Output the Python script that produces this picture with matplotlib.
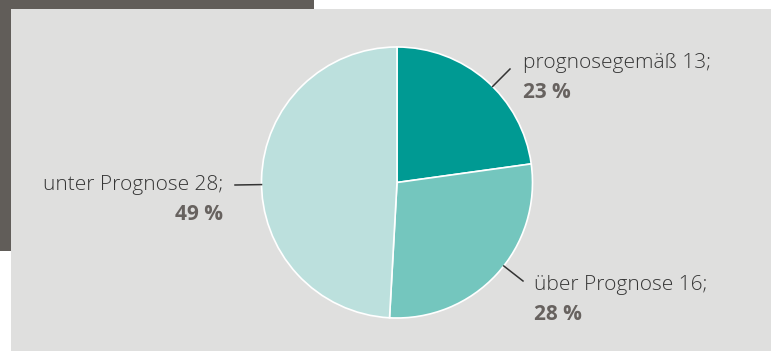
import numpy as np
import matplotlib
matplotlib.use("Agg")
import matplotlib.pyplot as plt
from matplotlib.patches import Rectangle

# Prognose-Treffer
categories = ["prognosegemäß", "über Prognose", "unter Prognose"]
counts = [13, 16, 28]
percent = [23, 28, 49]
colors = ["#009a93", "#74c6be", "#bce0dd"]

W, H = 771, 351
plt.rcParams["font.family"] = ["Open Sans", "DejaVu Sans"]

fig = plt.figure(figsize=(W / 100, H / 100), dpi=100)
fig.patch.set_facecolor("white")
ax = fig.add_axes([0, 0, 1, 1])

# Hintergrund: dunkler Block links oben, graue Fläche darüber
ax.add_patch(Rectangle((0, H - 251), 314, 251, facecolor="#615d59", edgecolor="none", zorder=0))
ax.add_patch(Rectangle((11, 0), W - 11, H - 9, facecolor="#dfdfde", edgecolor="none", zorder=1))

cx, cy, r = 397, H - 182.5, 135.5
wedges, _ = ax.pie(counts, colors=colors, startangle=90, counterclock=False,
                   center=(cx, cy), radius=r,
                   wedgeprops=dict(edgecolor="white", linewidth=1.2))
for w in wedges:
    w.set_zorder(2)

# Führungslinien-Enden und Textanker: (lx, ly, tx, ty, Ausrichtung)
label_pos = [(510, H - 69, 523, H - 63, "left"),
             (523, H - 281, 534, H - 285, "left"),
             (235, H - 185, 223, H - 185, "right")]

for cat, n, p, (lx, ly, tx, ty, ha) in zip(categories, counts, percent, label_pos):
    # Linie beginnt am Kreisrand in Richtung des Linienendes
    ang = np.arctan2(ly - cy, lx - cx)
    x0, y0 = cx + r * np.cos(ang), cy + r * np.sin(ang)
    ax.plot([x0, lx], [y0, ly], color="#333333", lw=1.1, zorder=3)
    ax.text(tx, ty, f"{cat} {n};", ha=ha, va="center", fontsize=15,
            fontweight="light", color="#363636", zorder=4)
    ax.text(tx, ty - 30, f"{p} %", ha=ha, va="center", fontsize=15,
            fontweight="bold", color="#67625f", zorder=4)

ax.set_xlim(0, W)
ax.set_ylim(0, H)
ax.set_aspect("auto")
ax.axis("off")

fig.savefig("out.png", dpi=100)
